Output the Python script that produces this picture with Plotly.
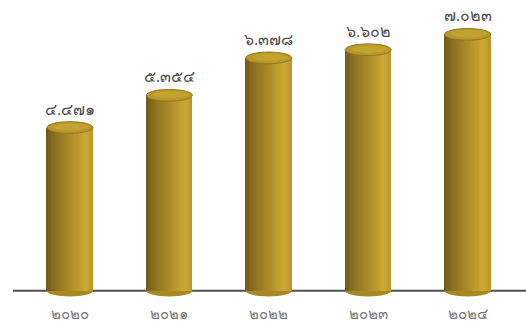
import plotly.graph_objects as go

# Data
years = [2020, 2021, 2022, 2023, 2024]
values = [4.471, 5.354, 6.378, 6.602, 7.023]

THAI_DIGITS = str.maketrans("0123456789", "๐๑๒๓๔๕๖๗๘๙")


def thai(s):
    return str(s).translate(THAI_DIGITS)


year_labels = [thai(y) for y in years]
value_labels = [thai(f"{v:.3f}") for v in values]

xpos = list(range(len(years)))
bar_w = 0.463          # cylinder width in category units
cap_h = 0.16           # half-height of the elliptical caps (y units)
x_min, x_max = -0.704, 4.588

# horizontal shading stops across a cylinder (position, rgb)
stops = [
    (0.00, (112, 90, 24)),
    (0.20, (140, 114, 32)),
    (0.55, (176, 143, 40)),
    (0.85, (204, 170, 52)),
    (1.00, (184, 150, 42)),
]


def shade(t):
    for (p0, c0), (p1, c1) in zip(stops[:-1], stops[1:]):
        if p0 <= t <= p1:
            f = (t - p0) / (p1 - p0)
            r, g, b = (round(a + (bb - a) * f) for a, bb in zip(c0, c1))
            return f"rgb({r},{g},{b})"
    return "rgb(%d,%d,%d)" % stops[-1][1]


fig = go.Figure()

n_slices = 28
slice_w = bar_w / n_slices
for k in range(n_slices):
    t = (k + 0.5) / n_slices
    fig.add_trace(go.Bar(
        x=xpos, y=values,
        width=slice_w * 1.02,
        offset=-bar_w / 2 + k * slice_w,
        marker=dict(color=shade(t), line=dict(width=0)),
        hoverinfo="skip", showlegend=False,
    ))

shapes = [
    # baseline
    dict(type="line", xref="x", yref="y", layer="between",
         x0=x_min + 0.13, x1=x_max, y0=0, y1=0,
         line=dict(color="#505050", width=2)),
]
for x, v in zip(xpos, values):
    # rounded base of the cylinder
    shapes.append(dict(
        type="circle", xref="x", yref="y", layer="between",
        x0=x - bar_w / 2, x1=x + bar_w / 2, y0=-cap_h, y1=cap_h,
        fillcolor="rgb(168,136,36)", line=dict(width=0),
    ))
    # top cap
    shapes.append(dict(
        type="circle", xref="x", yref="y", layer="above",
        x0=x - bar_w / 2, x1=x + bar_w / 2, y0=v - cap_h, y1=v + cap_h,
        fillcolor="rgb(184,150,42)", line=dict(width=1, color="rgb(150,120,32)"),
    ))
    shapes.append(dict(
        type="circle", xref="x", yref="y", layer="above",
        x0=x - bar_w * 0.36, x1=x + bar_w * 0.42, y0=v - cap_h * 0.55, y1=v + cap_h * 0.75,
        fillcolor="rgb(196,162,48)", line=dict(width=0),
    ))

annotations = [
    dict(x=x, y=v, xref="x", yref="y", text=t, showarrow=False, yshift=19,
         font=dict(size=16, color="#4d4d4d"))
    for x, v, t in zip(xpos, values, value_labels)
]

fig.update_layout(
    width=526, height=323,
    margin=dict(l=0, r=0, t=6, b=25),
    paper_bgcolor="white", plot_bgcolor="white",
    barmode="overlay", bargap=0,
    shapes=shapes, annotations=annotations,
    xaxis=dict(
        range=[x_min, x_max], tickmode="array", tickvals=xpos, ticktext=year_labels,
        showgrid=False, zeroline=False, showline=False,
        ticks="outside", ticklen=2, tickcolor="rgba(0,0,0,0)",
        tickfont=dict(size=15, color="#7a7a7a"),
        fixedrange=True,
    ),
    yaxis=dict(
        range=[-0.2, 7.8], showticklabels=False, showgrid=False,
        zeroline=False, fixedrange=True,
    ),
)

fig.write_html("out.html")
